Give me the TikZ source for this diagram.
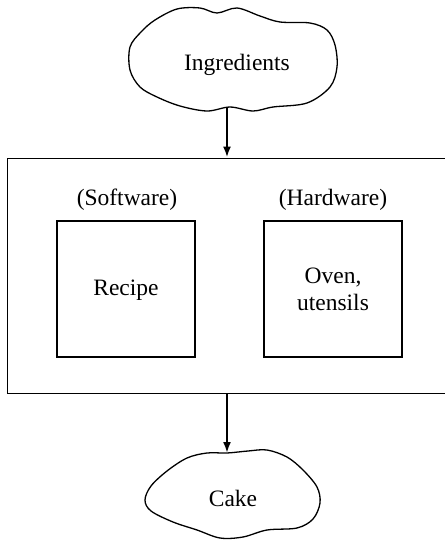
\documentclass[tikz,border=0pt]{standalone}
\usepackage{fontspec}
\setmainfont{Liberation Serif}
\usetikzlibrary{arrows.meta}
\begin{document}
\begin{tikzpicture}[x=1pt,y=-1pt,
  txt/.style={font=\fontsize{23.5}{27}\selectfont, align=center, inner sep=0pt},
  inbox/.style={draw, line width=2.6pt, minimum width=138pt, minimum height=136pt, inner sep=0pt},
  outbox/.style={draw, line width=0.9pt, inner sep=0pt},
  cloudline/.style={line width=1.3pt, line join=round},
  flow/.style={line width=2pt, -{Latex[length=11pt,width=8pt]}}]
\useasboundingbox (0,0) rectangle (445,542);
\clip (0,0) rectangle (445,542);
% outer system box (right side runs off the page)
\node[outbox, minimum width=453pt, minimum height=235pt] (sys) at (233.5,275.5) {};
% inner boxes
\node[inbox] (sw) at (126,289) {};
\node[inbox] (hw) at (333,289) {};
\node[txt] (recipe) at (126,290) {Recipe};
\node[txt] (oven) at (333,289) {Oven,\\utensils};
\node[txt] (swl) at (127,200) {(Software)};
\node[txt] (hwl) at (333,200) {(Hardware)};
% clouds
\draw[cloudline] plot[smooth cycle, tension=0.55] coordinates {
 (130,47) (141,32) (155,20) (177,9) (200,8) (217,13) (237,8) (260,16)
 (280,22) (310,23) (327,30) (335,45) (337,67) (330,87) (307,103) (273,107)
 (253,111) (230,107) (207,111) (180,106) (157,97) (140,87) (130,70)};
\node[txt] (ing) at (237,65) {Ingredients};
\coordinate (ingbot) at (227,107);
\draw[cloudline] plot[smooth cycle, tension=0.55] coordinates {
 (227,453) (207,453) (187,458) (167,471) (151,486) (145,500) (151,511)
 (173,522) (197,530) (220,538) (243,537) (267,530) (297,528) (313,519)
 (320,503) (317,487) (303,470) (287,457) (267,450) (248,451)};
\node[txt] (cake) at (233,498) {Cake};
\coordinate (caketop) at (227,453);
% connectors
\draw[flow] (ingbot) -- (ingbot |- sys.north);
\draw[flow] (caketop |- sys.south) -- (caketop);
\end{tikzpicture}
\end{document}
